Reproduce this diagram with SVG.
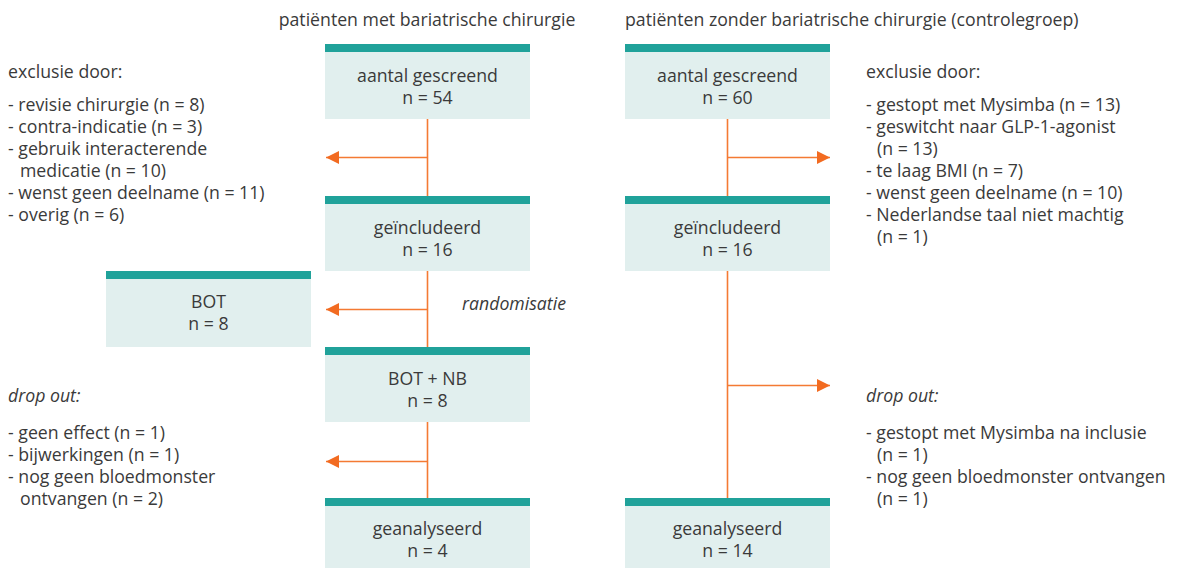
<svg xmlns="http://www.w3.org/2000/svg" width="1181" height="568" viewBox="0 0 1181 568">
  <style>
    text { font-family: "Open Sans", "Noto Sans", "Liberation Sans", sans-serif; font-size: 17.7px; fill: #3a3a3a; }
    .c { text-anchor: middle; }
    .i { font-style: italic; }
    .box { fill: #e1efee; }
    .bar { fill: #20a29a; }
    .ln { stroke: #f47a33; stroke-width: 1.6; fill: none; }
  </style>
  <defs>
    <marker id="ah" viewBox="0 0 10 10" refX="10" refY="5" markerUnits="userSpaceOnUse" markerWidth="17" markerHeight="13" orient="auto">
      <path d="M0,0 L10,5 L0,10 z" fill="#f26b21"/>
    </marker>
  </defs>
  <rect width="1181" height="568" fill="#ffffff"/>

  <!-- column headings -->
  <text class="c" x="427" y="26">patiënten met bariatrische chirurgie</text>
  <text x="625" y="26">patiënten zonder bariatrische chirurgie (controlegroep)</text>

  <!-- connectors -->
  <g id="connectors">
    <path class="ln" d="M427.5,119 V196"/>
    <path class="ln" d="M427.5,271 V347"/>
    <path class="ln" d="M427.5,422 V498"/>
    <path class="ln" d="M727.5,119 V196"/>
    <path class="ln" d="M727.5,271 V498"/>
    <path class="ln" d="M427.5,157.5 H326" marker-end="url(#ah)"/>
    <path class="ln" d="M427.5,309.5 H326" marker-end="url(#ah)"/>
    <path class="ln" d="M427.5,461.5 H326" marker-end="url(#ah)"/>
    <path class="ln" d="M727.5,157.5 H830" marker-end="url(#ah)"/>
    <path class="ln" d="M727.5,385.5 H830" marker-end="url(#ah)"/>
  </g>

  <!-- left column -->
  <g id="screened-left">
    <rect class="box" x="325" y="44" width="205" height="75"/>
    <rect class="bar" x="325" y="44" width="205" height="8"/>
    <text class="c" x="427.5" y="82">aantal gescreend</text>
    <text class="c" x="427.5" y="104">n = 54</text>
  </g>
  <g id="included-left">
    <rect class="box" x="325" y="196" width="205" height="75"/>
    <rect class="bar" x="325" y="196" width="205" height="8"/>
    <text class="c" x="427.5" y="234">geïncludeerd</text>
    <text class="c" x="427.5" y="256">n = 16</text>
  </g>
  <g id="bot">
    <rect class="box" x="106" y="271" width="205" height="76"/>
    <rect class="bar" x="106" y="271" width="205" height="8"/>
    <text class="c" x="208.5" y="308">BOT</text>
    <text class="c" x="208.5" y="330">n = 8</text>
  </g>
  <g id="bot-nb">
    <rect class="box" x="325" y="347" width="205" height="75"/>
    <rect class="bar" x="325" y="347" width="205" height="8"/>
    <text class="c" x="427.5" y="385">BOT + NB</text>
    <text class="c" x="427.5" y="407">n = 8</text>
  </g>
  <g id="analysed-left">
    <rect class="box" x="325" y="498" width="205" height="70"/>
    <rect class="bar" x="325" y="498" width="205" height="8"/>
    <text class="c" x="427.5" y="535">geanalyseerd</text>
    <text class="c" x="427.5" y="557">n = 4</text>
  </g>
  <text class="i" x="462" y="310">randomisatie</text>

  <!-- right column -->
  <g id="screened-right">
    <rect class="box" x="625" y="44" width="205" height="75"/>
    <rect class="bar" x="625" y="44" width="205" height="8"/>
    <text class="c" x="727.5" y="82">aantal gescreend</text>
    <text class="c" x="727.5" y="104">n = 60</text>
  </g>
  <g id="included-right">
    <rect class="box" x="625" y="196" width="205" height="75"/>
    <rect class="bar" x="625" y="196" width="205" height="8"/>
    <text class="c" x="727.5" y="234">geïncludeerd</text>
    <text class="c" x="727.5" y="256">n = 16</text>
  </g>
  <g id="analysed-right">
    <rect class="box" x="625" y="498" width="205" height="70"/>
    <rect class="bar" x="625" y="498" width="205" height="8"/>
    <text class="c" x="727.5" y="535">geanalyseerd</text>
    <text class="c" x="727.5" y="557">n = 14</text>
  </g>

  <!-- exclusion and drop-out notes -->
  <g id="exclusion-left">
    <text x="8" y="78">exclusie door:</text>
    <text x="8" y="111">- revisie chirurgie (n = 8)</text>
    <text x="8" y="133">- contra-indicatie (n = 3)</text>
    <text x="8" y="155">- gebruik interacterende</text>
    <text x="20" y="177">medicatie (n = 10)</text>
    <text x="8" y="199">- wenst geen deelname (n = 11)</text>
    <text x="8" y="221">- overig (n = 6)</text>
  </g>
  <g id="dropout-left">
    <text class="i" x="8" y="402">drop out:</text>
    <text x="8" y="439">- geen effect (n = 1)</text>
    <text x="8" y="461">- bijwerkingen (n = 1)</text>
    <text x="8" y="483">- nog geen bloedmonster</text>
    <text x="20" y="505">ontvangen (n = 2)</text>
  </g>
  <g id="exclusion-right">
    <text x="866" y="78">exclusie door:</text>
    <text x="866" y="111">- gestopt met Mysimba (n = 13)</text>
    <text x="866" y="133">- geswitcht naar GLP-1-agonist</text>
    <text x="877" y="155">(n = 13)</text>
    <text x="866" y="177">- te laag BMI (n = 7)</text>
    <text x="866" y="199">- wenst geen deelname (n = 10)</text>
    <text x="866" y="221">- Nederlandse taal niet machtig</text>
    <text x="877" y="243">(n = 1)</text>
  </g>
  <g id="dropout-right">
    <text class="i" x="866" y="402">drop out:</text>
    <text x="866" y="439">- gestopt met Mysimba na inclusie</text>
    <text x="877" y="461">(n = 1)</text>
    <text x="866" y="483">- nog geen bloedmonster ontvangen</text>
    <text x="877" y="505">(n = 1)</text>
  </g>
</svg>
